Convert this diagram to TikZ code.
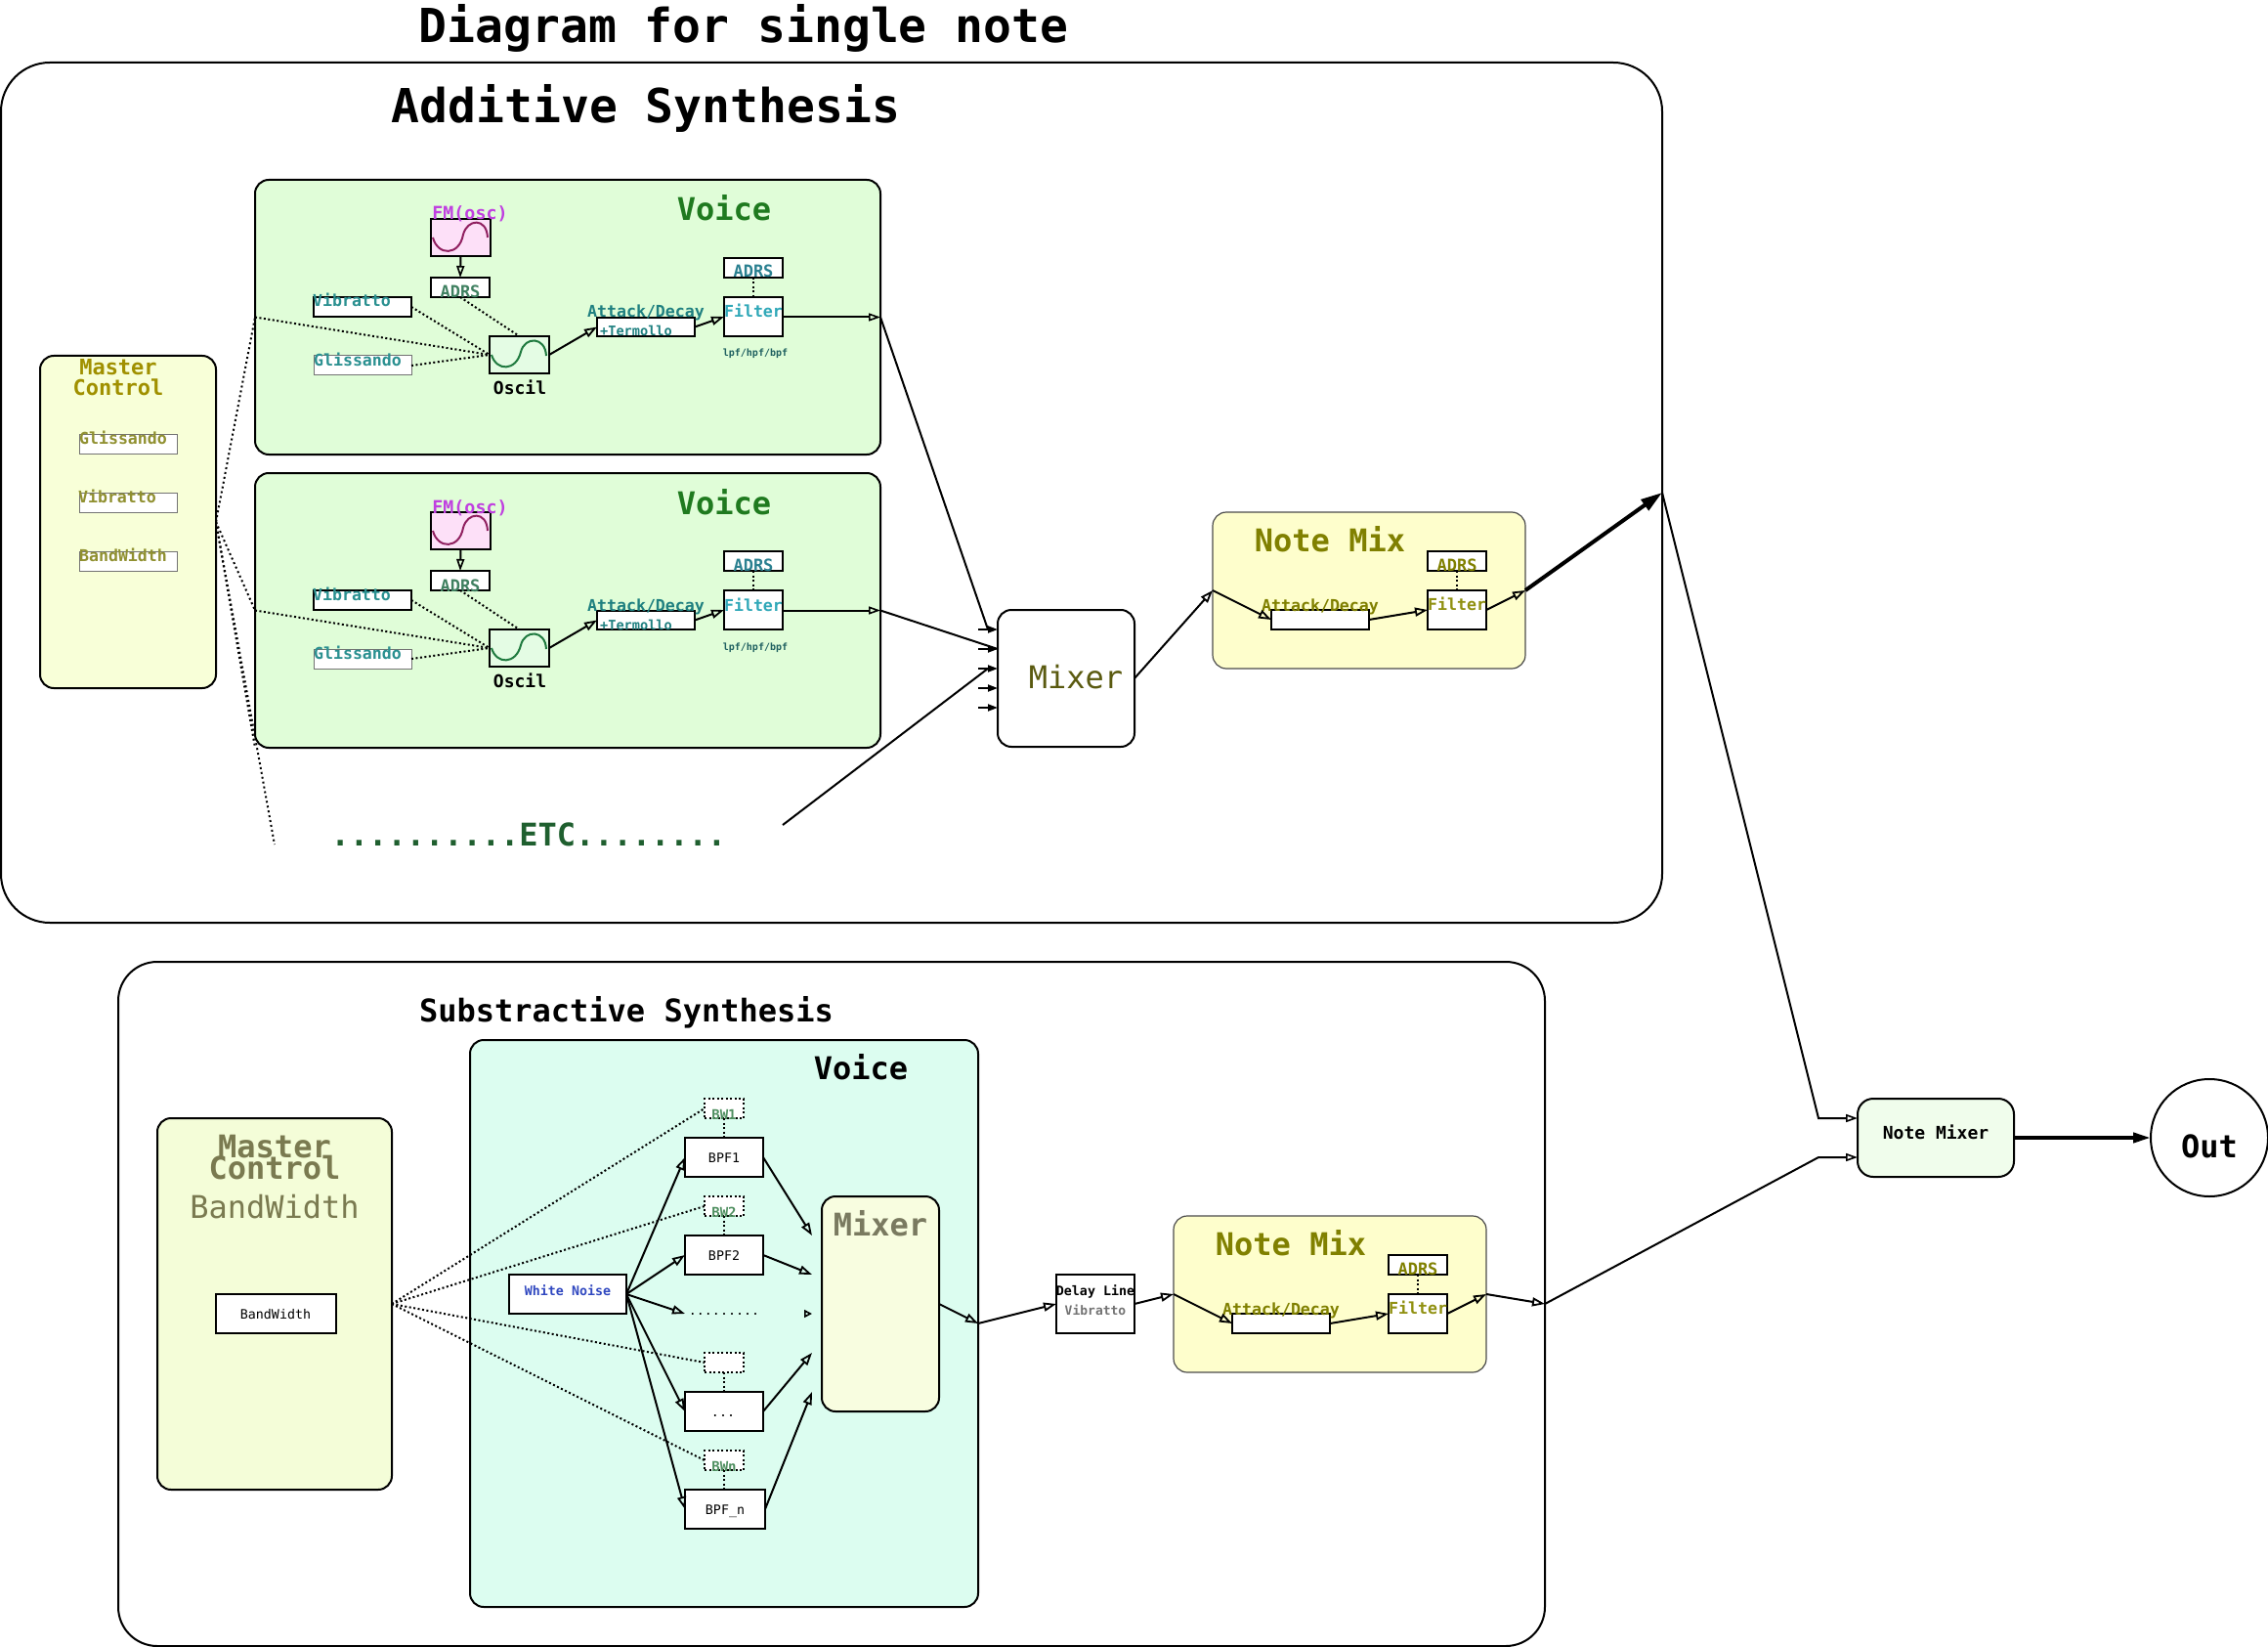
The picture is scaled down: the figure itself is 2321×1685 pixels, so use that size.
\documentclass[tikz,border=0pt]{standalone}
\usepackage{fontspec}
\setmainfont{DejaVu Sans Mono}
\usetikzlibrary{arrows.meta}
\definecolor{cvoice}{HTML}{E0FDD8}
\definecolor{cmaster}{HTML}{F8FFD8}
\definecolor{cnote}{HTML}{FEFECC}
\definecolor{cvoicetwo}{HTML}{DCFDF0}
\definecolor{cmixtwo}{HTML}{F8FDE0}
\definecolor{cmastertwo}{HTML}{F4FDD8}
\definecolor{cnmix}{HTML}{F0FDEC}
\definecolor{cfm}{HTML}{FDE0F8}
\definecolor{cosc}{HTML}{E4FCE4}
\definecolor{tvoice}{HTML}{1F7A1F}
\definecolor{tfm}{HTML}{C040E0}
\definecolor{tteal}{HTML}{2A9090}
\definecolor{tadrsa}{HTML}{3F8060}
\definecolor{tadrsb}{HTML}{2A8090}
\definecolor{tatt}{HTML}{1F8080}
\definecolor{tfil}{HTML}{30A8B8}
\definecolor{tlpf}{HTML}{1F6060}
\definecolor{tmaster}{HTML}{A09000}
\definecolor{tmbox}{HTML}{909030}
\definecolor{tnote}{HTML}{808000}
\definecolor{tnotebox}{HTML}{909010}
\definecolor{tmixer}{HTML}{5A5A10}
\definecolor{tetc}{HTML}{1F5F2F}
\definecolor{tmixtwo}{HTML}{7A7A60}
\definecolor{tmastertwo}{HTML}{7A7A50}
\definecolor{tbw}{HTML}{4F8F60}
\definecolor{tnoise}{HTML}{3048C0}
\definecolor{sgreen}{HTML}{1F7A3F}
\definecolor{spurple}{HTML}{902060}
\tikzset{
  frame/.style={draw=black,line width=2pt,rounded corners=#1,inner sep=0pt,outer sep=0pt,anchor=north west},
  frame/.default=14pt,
  plainbox/.style={draw=black,line width=2pt,fill=white,inner sep=0pt,outer sep=0pt,anchor=north west},
  thinbox/.style={draw=black!55,line width=1pt,fill=white,inner sep=0pt,outer sep=0pt,anchor=north west},
  dotbox/.style={draw=black,line width=2pt,dash pattern=on 2pt off 2.5pt,fill=white,inner sep=0pt,outer sep=0pt,anchor=north west},
  txt/.style={inner sep=0pt,outer sep=0pt,anchor=base},
  con/.style={line width=2pt,-{Triangle[open,length=13pt,width=9pt,line width=1.8pt]}},
  conthin/.style={line width=2pt,-{Triangle[open,length=12pt,width=8pt,line width=1.6pt]}},
  stub/.style={line width=2pt,-{Triangle[length=10pt,width=7pt]}},
  heavy/.style={line width=4pt,-{Triangle[length=22pt,width=13pt]}},
  heavyb/.style={line width=4pt,-{Triangle[length=18pt,width=10pt]}},
  dotcon/.style={line width=2pt,dash pattern=on 2pt off 2.5pt},
  dotconb/.style={line width=2pt,dash pattern=on 2pt off 3pt},
  plain/.style={line width=2pt}
}
% \bx{name}{x1}{y1}{x2}{y2}{style}
\newcommand\bx[6]{\node[#6,minimum width={(#4-#2)*1pt},minimum height={(#5-#3)*1pt}] (#1) at (#2,#3) {};}
% \lab{name}{x}{baseline}{size}{style}{colour}{text}
\newcommand\lab[7]{\node[txt,text=#6] (#1) at (#2,#3) {\fontsize{#4}{#4}\selectfont#5#7};}
\newcommand\voicepart[1]{%
  \bx{voice#1}{261}{184}{901}{465}{frame,fill=cvoice}
  \bx{fm#1}{441}{224}{502}{262}{plainbox,fill=cfm}
  \bx{adrsa#1}{441}{284}{501}{304}{plainbox}
  \bx{vib#1}{321}{304}{421}{324}{plainbox}
  \bx{gli#1}{321}{364}{421}{384}{thinbox}
  \bx{osc#1}{501}{344}{562}{382}{plainbox,fill=cosc}
  \bx{att#1}{611}{325}{711}{344}{plainbox}
  \bx{fil#1}{741}{304}{801}{344}{plainbox}
  \bx{adrsb#1}{741}{264}{801}{284}{plainbox}
  \draw[spurple,line width=2pt] (443,243) .. controls (448,262) and (470,262) .. (474,240) .. controls (478,224) and (498,222) .. (499,243);
  \draw[sgreen,line width=2pt] (503,363) .. controls (508,380) and (528,380) .. (533,360) .. controls (537,344) and (558,344) .. (559,364);
  \lab{vt#1}{741}{226}{32}{\bfseries}{tvoice}{Voice}
  \lab{fmt#1}{481}{225}{18.3}{\bfseries}{tfm}{FM(osc)}
  \lab{at#1}{471}{305}{17}{\bfseries}{tadrsa}{ADRS}
  \lab{vibt#1}{360}{314}{16.6}{\bfseries}{tteal}{Vibratto}
  \lab{glit#1}{366}{374}{16.6}{\bfseries}{tteal}{Glissando}
  \lab{osct#1}{532}{403}{18}{\bfseries}{black}{Oscil}
  \lab{attt#1}{661}{325}{16.6}{\bfseries}{tatt}{Attack/Decay}
  \lab{trem#1}{651}{344}{13.6}{\bfseries}{tatt}{+Termollo}
  \lab{filt#1}{771}{325}{16.6}{\bfseries}{tfil}{Filter}
  \lab{bt#1}{771}{284}{17}{\bfseries}{tadrsb}{ADRS}
  \lab{lpf#1}{773}{365}{10}{\bfseries}{tlpf}{lpf/hpf/bpf}
  \draw[conthin] (fm#1.south) -- (adrsa#1.north);
  \draw[dotcon] (adrsa#1.south) -- (osc#1.north);
  \draw[dotcon] (vib#1.east) -- (osc#1.west);
  \draw[dotcon] (gli#1.east) -- (osc#1.west);
  \draw[dotcon] (voice#1.west) -- (osc#1.west);
  \draw[con] (osc#1.east) -- (att#1.west);
  \draw[con] (att#1.east) -- (fil#1.west);
  \draw[dotcon] (adrsb#1.south) -- (fil#1.north);
  \draw[conthin] (fil#1.east |- voice#1.east) -- (voice#1.east);
}
\newcommand\notemix[1]{%
  \bx{nm#1}{1241}{524}{1561}{684}{frame,fill=cnote,draw=black!70,line width=1.2pt}
  \bx{natt#1}{1301}{624}{1401}{644}{plainbox}
  \bx{nfil#1}{1461}{604}{1521}{644}{plainbox}
  \bx{nadrs#1}{1461}{564}{1521}{584}{plainbox}
  \lab{nmt#1}{1361}{564}{32}{\bfseries}{tnote}{Note Mix}
  \lab{nat#1}{1351}{625}{16.6}{\bfseries}{tnote}{Attack/Decay}
  \lab{nft#1}{1491}{624}{16.6}{\bfseries}{tnotebox}{Filter}
  \lab{nbt#1}{1491}{584}{17}{\bfseries}{tnote}{ADRS}
  \draw[con] (nm#1.west) -- (natt#1.west);
  \draw[con] (natt#1.east) -- (nfil#1.west);
  \draw[dotcon] (nadrs#1.south) -- (nfil#1.north);
  \draw[con] (nfil#1.east) -- (nm#1.east);
}
\begin{document}
\begin{tikzpicture}[x=1pt,y=-1pt]
\useasboundingbox (0,0) rectangle (2321,1685);
% outer frames
\bx{add}{1}{64}{1701}{944}{frame=50pt}
\bx{sub}{121}{984}{1581}{1684}{frame=40pt}
\lab{title}{761}{44}{48}{\bfseries}{black}{Diagram for single note}
\lab{addt}{661}{126}{48}{\bfseries}{black}{Additive Synthesis}
% additive
\bx{master}{41}{364}{221}{704}{frame,fill=cmaster}
\lab{mt}{121}{384}{22}{\bfseries}{tmaster}{Master}
\lab{mc}{121}{404}{22}{\bfseries}{tmaster}{Control}
\bx{mg}{81}{444}{181}{464}{thinbox}
\bx{mv}{81}{504}{181}{524}{thinbox}
\bx{mb}{81}{564}{181}{584}{thinbox}
\lab{mgt}{126}{454}{16.6}{\bfseries}{tmbox}{Glissando}
\lab{mvt}{120}{514}{16.6}{\bfseries}{tmbox}{Vibratto}
\lab{mbt}{126}{574}{16.6}{\bfseries}{tmbox}{BandWidth}
\voicepart{A}
\begin{scope}[yshift=-300pt]\voicepart{B}\end{scope}
\lab{etc}{541}{865}{32}{\bfseries}{tetc}{..........ETC........}
\bx{mixer}{1021}{624}{1161}{764}{frame}
\lab{mixt}{1101}{704}{32}{}{tmixer}{Mixer}
\coordinate (mi1) at (1001,644);\coordinate (mi2) at (1001,664);\coordinate (mi3) at (1001,684);\coordinate (mi4) at (1001,704);\coordinate (mi5) at (1001,724);
\coordinate (me1) at (1021,644);\coordinate (me2) at (1021,664);\coordinate (me3) at (1021,684);\coordinate (me4) at (1021,704);\coordinate (me5) at (1021,724);
\coordinate (jA) at (1011,644);\coordinate (jC) at (1011,684);
\foreach \i in {1,...,5}{\draw[stub] (mi\i) -- (me\i);}
\notemix{X}
\coordinate (dashend) at (281,864);
\coordinate (etcout) at (801,844);
\coordinate (tap) at (1701,504);
\draw[dotconb] (master.east) -- (voiceA.west);
\draw[dotconb] (master.east) -- (voiceB.west);
\draw[dotconb] (master.east) -- (voiceB.south west);
\draw[dotconb] (master.east) -- (dashend);
\draw[plain] (voiceA.east) -- (jA);
\draw[plain] (voiceB.east) -- (me2);
\draw[plain] (etcout) -- (jC);
\draw[con] (mixer.east) -- (nmX.west);
\draw[heavy] (nmX.east) -- (tap);
% subtractive
\lab{subt}{641}{1045}{32}{\bfseries}{black}{Substractive Synthesis}
\bx{mastb}{161}{1144}{401}{1524}{frame,fill=cmastertwo}
\lab{mbta}{281}{1184}{32}{\bfseries}{tmastertwo}{Master}
\lab{mbtb}{281}{1206}{32}{\bfseries}{tmastertwo}{Control}
\lab{mbtc}{281}{1246}{32}{}{tmastertwo}{BandWidth}
\bx{mbbox}{221}{1324}{344}{1364}{plainbox}
\lab{mbboxt}{282}{1349}{13.3}{}{black}{BandWidth}
\bx{vtwo}{481}{1064}{1001}{1644}{frame,fill=cvoicetwo}
\lab{vtwot}{881}{1104}{32}{\bfseries}{black}{Voice}
\bx{bwa}{721}{1124}{761}{1144}{dotbox}
\bx{bwb}{721}{1224}{761}{1244}{dotbox}
\bx{bwc}{721}{1384}{761}{1404}{dotbox}
\bx{bwd}{721}{1484}{761}{1504}{dotbox}
\bx{bpfa}{701}{1164}{781}{1204}{plainbox}
\bx{bpfb}{701}{1264}{781}{1304}{plainbox}
\bx{bpfc}{701}{1424}{781}{1464}{plainbox}
\bx{bpfd}{701}{1524}{783}{1564}{plainbox}
\bx{noise}{521}{1304}{641}{1344}{plainbox}
\bx{mixb}{841}{1224}{961}{1444}{frame,fill=cmixtwo}
\lab{bwat}{741}{1145}{14}{\bfseries}{tbw}{BW1}
\lab{bwbt}{741}{1245}{14}{\bfseries}{tbw}{BW2}
\lab{bwdt}{741}{1505}{14}{\bfseries}{tbw}{BWn}
\lab{bpfat}{741}{1189}{13.3}{}{black}{BPF1}
\lab{bpfbt}{741}{1289}{13.3}{}{black}{BPF2}
\lab{bpfct}{740}{1449}{13.3}{}{black}{...}
\lab{bpfdt}{742}{1549}{13.3}{}{black}{BPF\_n}
\lab{noiset}{581}{1325}{13.3}{\bfseries}{tnoise}{White Noise}
\lab{dots}{741}{1345}{13.3}{}{black}{.........}
\lab{mixbt}{901}{1264}{32}{\bfseries}{tmixtwo}{Mixer}
\coordinate (ma) at (831,1264);\coordinate (mb) at (831,1304);\coordinate (mc) at (831,1344);\coordinate (md) at (831,1384);\coordinate (mdd) at (831,1424);\coordinate (mcs) at (823,1344);\coordinate (dotsin) at (701,1344);
\draw[con] (noise.east) -- (bpfa.west);
\draw[con] (noise.east) -- (bpfb.west);
\draw[con] (noise.east) -- (dotsin);
\draw[con] (noise.east) -- (bpfc.west);
\draw[con] (noise.east) -- (bpfd.west);
\draw[con] (bpfa.east) -- (ma);
\draw[con] (bpfb.east) -- (mb);
\draw[line width=1.6pt,-{Triangle[open,length=8pt,width=8pt,line width=1.6pt]}] (mcs) -- (mc);
\draw[con] (bpfc.east) -- (md);
\draw[con] (bpfd.east) -- (mdd);
\foreach \a/\b in {bwa/bpfa,bwb/bpfb,bwc/bpfc,bwd/bpfd}{\draw[dotcon] (\a.south) -- (\a.south |- \b.north);}
\draw[dotcon] (mastb.east) -- (bwa.west);
\draw[dotcon] (mastb.east) -- (bwb.west);
\draw[dotcon] (mastb.east) -- (bwc.west);
\draw[dotcon] (mastb.east) -- (bwd.west);
\bx{delay}{1081}{1304}{1161}{1364}{plainbox}
\lab{delayt}{1121}{1325}{13.3}{\bfseries}{black}{Delay Line}
\lab{delayv}{1121}{1345}{13}{\bfseries}{black!55}{Vibratto}
\coordinate (vout) at (1001,1354);
\draw[con] (mixb.east) -- (vout);
\draw[con] (vout) -- (delay.west);
\begin{scope}[xshift=-40pt,yshift=-720pt]\notemix{Y}\end{scope}
\draw[con] (delay.east) -- (nmY.west);
\coordinate (subout) at (1581,1334);
\draw[con] (nmY.east) -- (subout);
% output
\bx{nmix}{1901}{1124}{2061}{1204}{frame=16pt,fill=cnmix}
\lab{nmixt}{1981}{1165}{18}{\bfseries}{black}{Note Mixer}
\node[draw=black,line width=2pt,circle,minimum size=120pt,inner sep=0pt,outer sep=0pt] (out) at (2261,1164) {};
\lab{outt}{2261}{1184}{32}{\bfseries}{black}{Out}
\coordinate (ka) at (1861,1144);\coordinate (kb) at (1861,1184);
\coordinate (ea) at (1901,1144);\coordinate (eb) at (1901,1184);
\draw[conthin] (tap) -- (ka) -- (ea);
\draw[conthin] (subout) -- (kb) -- (eb);
\draw[heavyb] (nmix.east) -- (out.west);
\end{tikzpicture}
\end{document}
